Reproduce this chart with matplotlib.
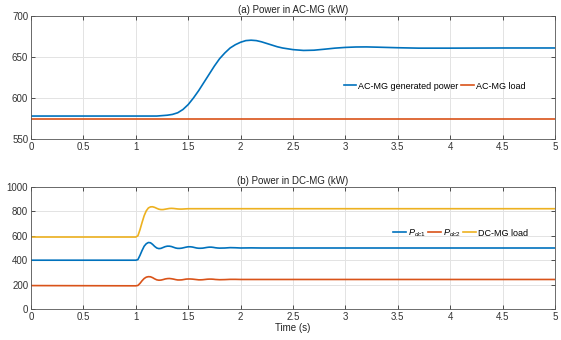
import numpy as np
import matplotlib
matplotlib.use('Agg')
import matplotlib.pyplot as plt

plt.rcParams['font.family'] = ['Liberation Sans', 'DejaVu Sans']
plt.rcParams['mathtext.fontset'] = 'custom'
plt.rcParams['mathtext.rm'] = 'Liberation Sans'
plt.rcParams['mathtext.it'] = 'Liberation Sans:italic'

# (a) AC-MG
ac_t = [0, 1.2, 1.3, 1.35, 1.4, 1.45, 1.5, 1.55, 1.6, 1.65, 1.7, 1.75, 1.8, 1.85, 1.9,
        1.95, 2.0, 2.05, 2.1, 2.15, 2.2, 2.25, 2.3, 2.35, 2.4, 2.5, 2.6, 2.7, 2.8, 2.9,
        3.0, 3.1, 3.2, 3.3, 3.5, 3.7, 4.0, 4.5, 5.0]
ac_gen = [578, 578, 579, 580, 582, 586, 592, 600, 609, 619, 629, 639, 648, 655, 661,
          665, 668, 670, 670.5, 670, 668.5, 666.5, 664.5, 662.5, 661, 659, 658, 658.3, 659.5, 660.8,
          661.7, 662.2, 662.3, 662, 661.3, 660.8, 660.8, 661, 661]
ac_load_t = [0, 5]
ac_load = [574.5, 574.5]

# (b) DC-MG
dc_t = [0, 1.00, 1.02, 1.04, 1.06, 1.08, 1.10, 1.12, 1.14, 1.16, 1.18, 1.20, 1.22, 1.24,
        1.26, 1.28, 1.30, 1.32, 1.34, 1.36, 1.38, 1.40, 1.42, 1.44, 1.46, 1.48, 1.50, 1.52,
        1.54, 1.56, 1.58, 1.60, 1.62, 1.64, 1.66, 1.68, 1.70, 1.72, 1.74, 1.76, 1.78, 1.80,
        1.85, 1.90, 1.95, 2.00, 2.10, 2.20, 5.00]
p_dc1 = [400, 400, 405, 440, 480, 515, 535, 545, 543, 530, 513, 500, 495, 497,
         504, 511, 515, 515, 512, 506, 500, 497, 497, 499, 503, 507, 510, 510,
         508, 504, 500, 498, 498, 499, 502, 505, 507, 507, 505, 502, 500, 499,
         500, 503, 502, 500, 501, 500, 500]
p_dc2 = [192, 190, 193, 210, 232, 250, 261, 265, 264, 257, 247, 239, 236, 237,
         241, 246, 249, 250, 248, 245, 241, 238, 238, 239, 242, 245, 246, 246,
         245, 243, 241, 239, 239, 240, 242, 244, 245, 245, 244, 242, 241, 240,
         241, 243, 243, 242, 242, 242, 242]
dc_load = [590, 590, 600, 650, 710, 765, 805, 828, 837, 838, 833, 825, 818, 815,
           815, 818, 821, 824, 825, 824, 822, 820, 819, 819, 820, 821, 822, 822,
           822, 822, 822, 822, 822, 822, 822, 822, 822, 822, 822, 822, 822, 822,
           822, 822, 822, 822, 822, 822, 822]

xticks = [0, 0.5, 1, 1.5, 2, 2.5, 3, 3.5, 4, 4.5, 5]
xticklabels = ['0', '0.5', '1', '1.5', '2', '2.5', '3', '3.5', '4', '4.5', '5']

c1 = '#0072BD'
c2 = '#D95319'
c3 = '#EDB120'

fig = plt.figure(figsize=(5.61, 3.4), dpi=100)
ax1 = fig.add_axes([31/561, 1-139/340, 524/561, 123/340])
ax2 = fig.add_axes([31/561, 1-309/340, 524/561, 122/340])

ax1.plot(ac_t, ac_gen, color=c1, lw=1.2, label='AC-MG generated power')
ax1.plot(ac_load_t, ac_load, color=c2, lw=1.2, label='AC-MG load')
ax1.set_ylim(550, 700)
ax1.set_yticks([550, 600, 650, 700])
ax1.set_title('(a) Power in AC-MG (kW)', fontsize=7, pad=2, color='#222222')
ax1.legend(loc='center', bbox_to_anchor=(0.77, 0.43), ncol=2, frameon=False,
           fontsize=6.5, handlelength=1.4, handletextpad=0.2, columnspacing=0.3)

ax2.plot(dc_t, p_dc1, color=c1, lw=1.2, label=r'$P_{dc1}$')
ax2.plot(dc_t, p_dc2, color=c2, lw=1.2, label=r'$P_{dc2}$')
ax2.plot(dc_t, dc_load, color=c3, lw=1.2, label='DC-MG load')
ax2.set_ylim(0, 1000)
ax2.set_yticks([0, 200, 400, 600, 800, 1000])
ax2.set_title('(b) Power in DC-MG (kW)', fontsize=7, pad=2, color='#222222')
ax2.set_xlabel('Time (s)', fontsize=7, labelpad=1, color='#222222')
ax2.legend(loc='center', bbox_to_anchor=(0.82, 0.62), ncol=3, frameon=False,
           fontsize=6.5, handlelength=1.4, handletextpad=0.2, columnspacing=0.3)

for ax in (ax1, ax2):
    ax.set_xlim(0, 5)
    ax.set_xticks(xticks)
    ax.set_xticklabels(xticklabels)
    ax.grid(True, color='#e3e3e3', lw=0.7)
    ax.set_axisbelow(True)
    ax.tick_params(direction='in', top=True, right=True, labelsize=7,
                   colors='#333333', length=3, width=0.6, pad=2)
    for s in ax.spines.values():
        s.set_color('#555555')
        s.set_linewidth(0.6)

fig.savefig('out.png', dpi=100)
